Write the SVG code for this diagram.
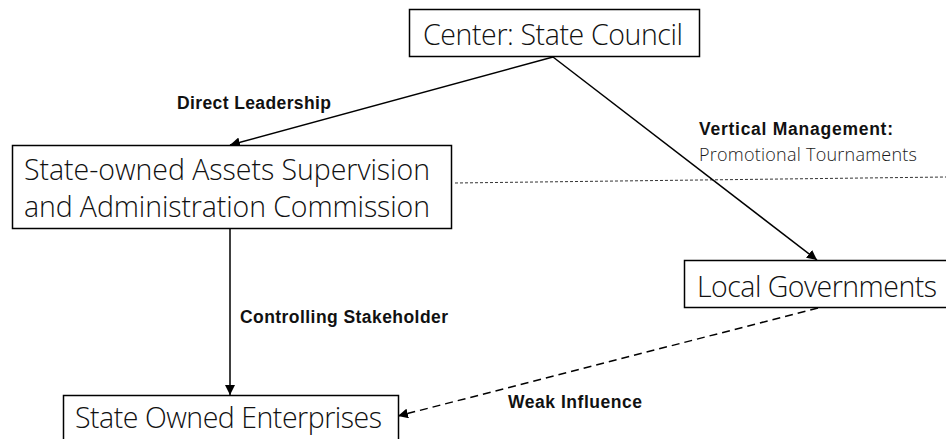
<svg xmlns="http://www.w3.org/2000/svg" width="946" height="439" viewBox="0 0 946 439">
  <style>
    .box { fill: #ffffff; stroke: #000000; stroke-width: 1.5; }
    .node-text { font-family: "Open Sans", "Noto Sans", "Liberation Sans", sans-serif; font-weight: 300; font-size: 28.5px; fill: #111111; }
    .label { font-family: "Liberation Sans", Arial, sans-serif; font-weight: bold; font-size: 17.5px; fill: #111111; }
    .label-reg { font-family: "Open Sans", "Noto Sans", "Liberation Sans", sans-serif; font-weight: 300; font-size: 18px; fill: #1a1a1a; }
    .edge { fill: none; stroke: #000000; stroke-width: 1.5; }
    .edge-dash { fill: none; stroke: #000000; stroke-width: 1.5; stroke-dasharray: 8 5; }
    .divider { fill: none; stroke: #333333; stroke-width: 1; stroke-dasharray: 3 2; }
  </style>
  <defs>
    <marker id="arrow" viewBox="0 0 10 10" refX="10" refY="5" markerWidth="10" markerHeight="10" markerUnits="userSpaceOnUse" orient="auto">
      <path d="M0,0 L10,5 L0,10 z" fill="#000000"/>
    </marker>
  </defs>
  <rect width="946" height="439" fill="#ffffff"/>

  <!-- connectors and their labels -->
  <g id="connectors">
    <path class="divider" d="M455,183 L946,177"/>
    <path class="edge" d="M553,57 L230,145" marker-end="url(#arrow)"/>
    <path class="edge" d="M553,57 L817,260" marker-end="url(#arrow)"/>
    <path class="edge" d="M230,228 L230,395" marker-end="url(#arrow)"/>
    <path class="edge-dash" d="M818,308 L398,416" marker-end="url(#arrow)"/>
    <text class="label" x="177" y="109" textLength="154">Direct Leadership</text>
    <text class="label" x="699" y="135" textLength="194">Vertical Management:</text>
    <text class="label-reg" x="699" y="161" textLength="218">Promotional Tournaments</text>
    <text class="label" x="240" y="323" textLength="208">Controlling Stakeholder</text>
    <text class="label" x="508" y="408" textLength="134">Weak Influence</text>
  </g>

  <g id="center">
    <rect class="box" x="409.5" y="9.5" width="290" height="47"/>
    <text class="node-text" x="423" y="45" textLength="260">Center: State Council</text>
  </g>

  <g id="sasac">
    <rect class="box" x="12.5" y="145.5" width="439" height="83"/>
    <text class="node-text" x="24" y="180" textLength="406">State-owned Assets Supervision</text>
    <text class="node-text" x="24" y="217" textLength="406">and Administration Commission</text>
  </g>

  <g id="local">
    <rect class="box" x="684.5" y="260.5" width="280" height="47"/>
    <text class="node-text" x="697" y="297" textLength="240">Local Governments</text>
  </g>

  <g id="soe">
    <rect class="box" x="63.5" y="395.5" width="335" height="60"/>
    <text class="node-text" x="75" y="428" textLength="307">State Owned Enterprises</text>
  </g>
</svg>
